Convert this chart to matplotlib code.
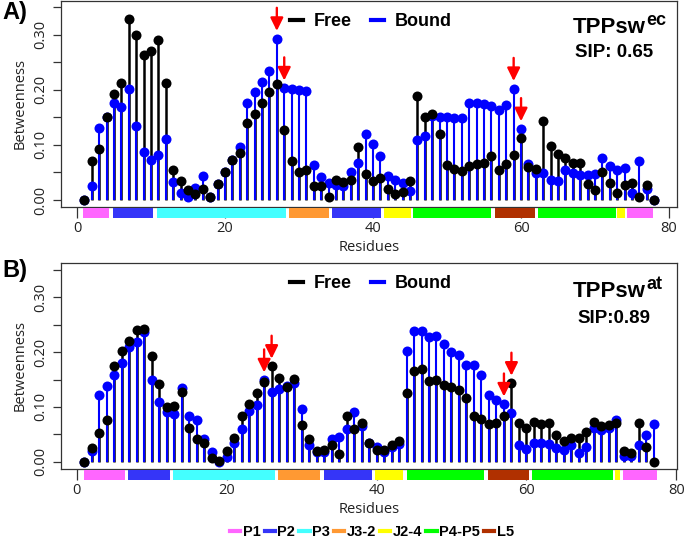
import matplotlib.pyplot as plt
import matplotlib.transforms as mtransforms
from matplotlib.lines import Line2D
from matplotlib.patches import Rectangle
import numpy as np

plt.rcParams['font.family'] = ['Liberation Sans', 'DejaVu Sans']

# Betweenness pro Residuum, Panel A (TPPsw ec)
free_a = [0.000, 0.071, 0.093, 0.150, 0.192, 0.213, 0.329, 0.299, 0.263, 0.270,
          0.291, 0.213, 0.055, 0.034, 0.018, 0.010, 0.020, 0.005, 0.029, 0.051,
          0.072, 0.085, 0.140, 0.157, 0.177, 0.196, 0.210, 0.128, 0.070, 0.051,
          0.055, 0.026, 0.026, 0.006, 0.036, 0.032, 0.036, 0.097, 0.047, 0.035,
          0.040, 0.020, 0.011, 0.015, 0.035, 0.188, 0.151, 0.157, 0.120, 0.063,
          0.057, 0.052, 0.061, 0.065, 0.068, 0.079, 0.055, 0.066, 0.082, 0.113,
          0.059, 0.057, 0.144, 0.098, 0.084, 0.077, 0.067, 0.068, 0.029, 0.018,
          0.051, 0.031, 0.013, 0.027, 0.031, 0.006, 0.027, 0.000]
bound_a = [0.000, 0.026, 0.131, 0.150, 0.177, 0.168, 0.202, 0.134, 0.087, 0.073,
           0.081, 0.111, 0.032, 0.012, 0.006, 0.021, 0.044, 0.005, 0.029, 0.051,
           0.073, 0.096, 0.177, 0.196, 0.215, 0.234, 0.293, 0.203, 0.201, 0.200,
           0.198, 0.064, 0.041, 0.030, 0.027, 0.026, 0.051, 0.068, 0.120, 0.102,
           0.079, 0.043, 0.037, 0.031, 0.016, 0.109, 0.116, 0.152, 0.151, 0.150,
           0.148, 0.149, 0.176, 0.177, 0.174, 0.171, 0.163, 0.173, 0.202, 0.129,
           0.066, 0.049, 0.049, 0.037, 0.035, 0.055, 0.049, 0.045, 0.045, 0.048,
           0.076, 0.061, 0.055, 0.058, 0.013, 0.071, 0.020, 0.000]

# Panel B (TPPsw at)
free_b = [0.000, 0.025, 0.052, 0.076, 0.175, 0.203, 0.220, 0.240, 0.243, 0.193,
          0.142, 0.099, 0.102, 0.127, 0.061, 0.041, 0.035, 0.007, 0.001, 0.019,
          0.044, 0.084, 0.105, 0.126, 0.146, 0.174, 0.152, 0.136, 0.151, 0.067,
          0.041, 0.020, 0.021, 0.031, 0.014, 0.083, 0.060, 0.070, 0.035, 0.022,
          0.021, 0.031, 0.037, 0.126, 0.165, 0.170, 0.147, 0.149, 0.140, 0.136,
          0.130, 0.116, 0.083, 0.078, 0.069, 0.071, 0.084, 0.143, 0.071, 0.062,
          0.072, 0.069, 0.071, 0.049, 0.038, 0.043, 0.043, 0.054, 0.073, 0.066,
          0.067, 0.071, 0.019, 0.015, 0.071, 0.026, 0.000]
bound_b = [0.000, 0.020, 0.121, 0.139, 0.159, 0.180, 0.210, 0.218, 0.237, 0.149,
           0.109, 0.090, 0.087, 0.135, 0.084, 0.076, 0.042, 0.017, 0.000, 0.009,
           0.034, 0.059, 0.093, 0.104, 0.149, 0.127, 0.133, 0.138, 0.143, 0.096,
           0.031, 0.018, 0.018, 0.042, 0.046, 0.060, 0.091, 0.065, 0.035, 0.027,
           0.018, 0.027, 0.033, 0.203, 0.238, 0.238, 0.227, 0.230, 0.215, 0.201,
           0.194, 0.177, 0.177, 0.159, 0.121, 0.112, 0.105, 0.089, 0.031, 0.023,
           0.035, 0.035, 0.032, 0.025, 0.021, 0.031, 0.016, 0.027, 0.062, 0.057,
           0.062, 0.077, 0.011, 0.011, 0.030, 0.048, 0.068]

# markierte Residuen (rote Pfeile)
arrows_a = [27, 28, 59, 60]
arrows_b = [25, 26, 57, 58]

# Sekundaerstruktur-Abschnitte unter der x-Achse
seg_a_start = [0.8, 4.85, 10.8, 28.6, 34.5, 41.5, 45.4, 56.5, 62.3, 73.0, 74.3]
seg_a_end = [4.3, 10.2, 28.2, 34.1, 41.1, 45.1, 55.9, 61.9, 72.8, 74.0, 77.8]
seg_a_name = ['P1', 'P2', 'P3', 'J3-2', 'P2', 'J2-4', 'P4-P5', 'L5', 'P4-P5', 'J2-4', 'P1']

seg_b_start = [1.0, 6.9, 12.9, 26.8, 33.0, 39.8, 44.0, 54.9, 60.8, 71.8, 72.9]
seg_b_end = [6.5, 12.5, 26.4, 32.4, 39.4, 43.5, 54.4, 60.4, 71.5, 72.5, 77.4]
seg_b_name = ['P1', 'P2', 'P3', 'J3-2', 'P2', 'J2-4', 'P4-P5', 'L5', 'P4-P5', 'J2-4', 'P1']

seg_farben = {
    'P1': '#ff66ff',
    'P2': '#3535f8',
    'P3': '#44ffff',
    'J3-2': '#ff9933',
    'J2-4': '#ffff00',
    'P4-P5': '#00ff00',
    'L5': '#b03000',
}

tick_font = {'family': 'Open Sans', 'size': 10.5, 'color': '#222222'}


def zeichne_panel(ax, free, bound, arrows, s_start, s_end, s_name, xlim, ylim,
                  titel, sip):
    x = np.arange(1, len(free) + 1)
    ax.vlines(x, 0, free, color='black', lw=1.8, zorder=2)
    ax.vlines(x, 0, bound, color='blue', lw=1.5, zorder=3)
    ax.plot(x, bound, 'o', color='blue', ms=7.2, mew=0, zorder=4)
    ax.plot(x, free, 'o', color='black', ms=7.2, mew=0, zorder=5)

    # rote Pfeile ueber den markierten Residuen
    for r in arrows:
        top = max(free[r - 1], bound[r - 1])
        ax.annotate('', xy=(r, top + 0.014), xytext=(r, top + 0.056),
                    arrowprops=dict(arrowstyle='-|>,head_length=0.65,head_width=0.32',
                                    color='red', lw=1.7, mutation_scale=12,
                                    shrinkA=0, shrinkB=0),
                    zorder=6)

    # farbige Abschnitte unterhalb der Box
    trans = mtransforms.blended_transform_factory(ax.transData, ax.transAxes)
    for s, e, n in zip(s_start, s_end, s_name):
        ax.add_patch(Rectangle((s, -0.053), e - s, 0.048, transform=trans,
                               facecolor=seg_farben[n], edgecolor='none',
                               clip_on=False, zorder=7))

    ax.set_xlim(*xlim)
    ax.set_ylim(*ylim)
    ax.set_xticks([0, 20, 40, 60, 80])
    ax.set_xticklabels(['0', '20', '40', '60', '80'], fontdict=tick_font)
    yt = np.arange(0, 0.351, 0.05)
    ax.set_yticks(yt)
    ax.set_yticklabels(['0.00', '', '0.10', '', '0.20', '', '0.30', ''],
                       fontdict=tick_font, rotation=90, va='center')
    ax.tick_params(axis='x', length=8, width=0.9, pad=2, color='#333333')
    ax.tick_params(axis='y', length=6, width=0.9, pad=3, color='#333333')
    for sp in ax.spines.values():
        sp.set_color('#333333')
        sp.set_linewidth(0.9)

    ax.set_xlabel('Residues', fontdict=tick_font)
    ax.xaxis.set_label_coords(0.5, -0.16)
    ax.xaxis.label.set_va('top')
    ax.set_ylabel('Betweenness', fontdict=tick_font)
    ax.yaxis.set_label_coords(-0.055, 0.5)

    # Legende Free / Bound
    handles = [Line2D([], [], color='black', lw=3), Line2D([], [], color='blue', lw=3)]
    ax.legend(handles, ['Free', 'Bound'], ncol=2, frameon=False, loc='center',
              bbox_to_anchor=(0.503, 0.90), handlelength=0.7, handletextpad=0.6,
              columnspacing=1.1, prop={'weight': 'bold', 'size': 13})

    # Titel mit Hochstellung und SIP-Wert
    t = ax.text(0.831, titel[2], titel[0], transform=ax.transAxes, fontsize=16,
                fontweight='bold', ha='left', va='baseline')
    ax.annotate(titel[1], xy=(1.0, 0.0), xycoords=t, xytext=(0.5, 9.5),
                textcoords='offset points', fontsize=13, fontweight='bold',
                ha='left', va='baseline')
    ax.text(sip[1], sip[2], sip[0], transform=ax.transAxes, fontsize=13.5,
            fontweight='bold', ha='left', va='baseline')


fig = plt.figure(figsize=(6.85, 5.4), dpi=100)
ax_a = fig.add_axes([0.0891, 0.6167, 0.8993, 0.3815])
ax_b = fig.add_axes([0.0891, 0.1315, 0.8993, 0.3815])

zeichne_panel(ax_a, free_a, bound_a, arrows_a, seg_a_start, seg_a_end, seg_a_name,
              (-2.16, 81.08), (-0.0127, 0.3614), ('TPPsw', 'ec', 0.843),
              ('SIP: 0.65', 0.834, 0.728))
zeichne_panel(ax_b, free_b, bound_b, arrows_b, seg_b_start, seg_b_end, seg_b_name,
              (-2.1, 80.1), (-0.0133, 0.3628), ('TPPsw', 'at', 0.836),
              ('SIP:0.89', 0.838, 0.710))

fig.text(0.004, 1 - 12 / 540, 'A)', fontsize=17, fontweight='bold', va='center')
fig.text(0.004, 1 - 270 / 540, 'B)', fontsize=17, fontweight='bold', va='center')

# gemeinsame Legende der Abschnitte
namen = ['P1', 'P2', 'P3', 'J3-2', 'J2-4', 'P4-P5', 'L5']
seg_handles = [Line2D([], [], color=seg_farben[n], lw=3) for n in namen]
fig.legend(seg_handles, namen, ncol=7, frameon=False, loc='center',
           bbox_to_anchor=(0.543, 0.014), handlelength=0.7, handletextpad=0.15,
           columnspacing=0.3, prop={'weight': 'bold', 'size': 10.5})

fig.savefig('out.png', dpi=100)
